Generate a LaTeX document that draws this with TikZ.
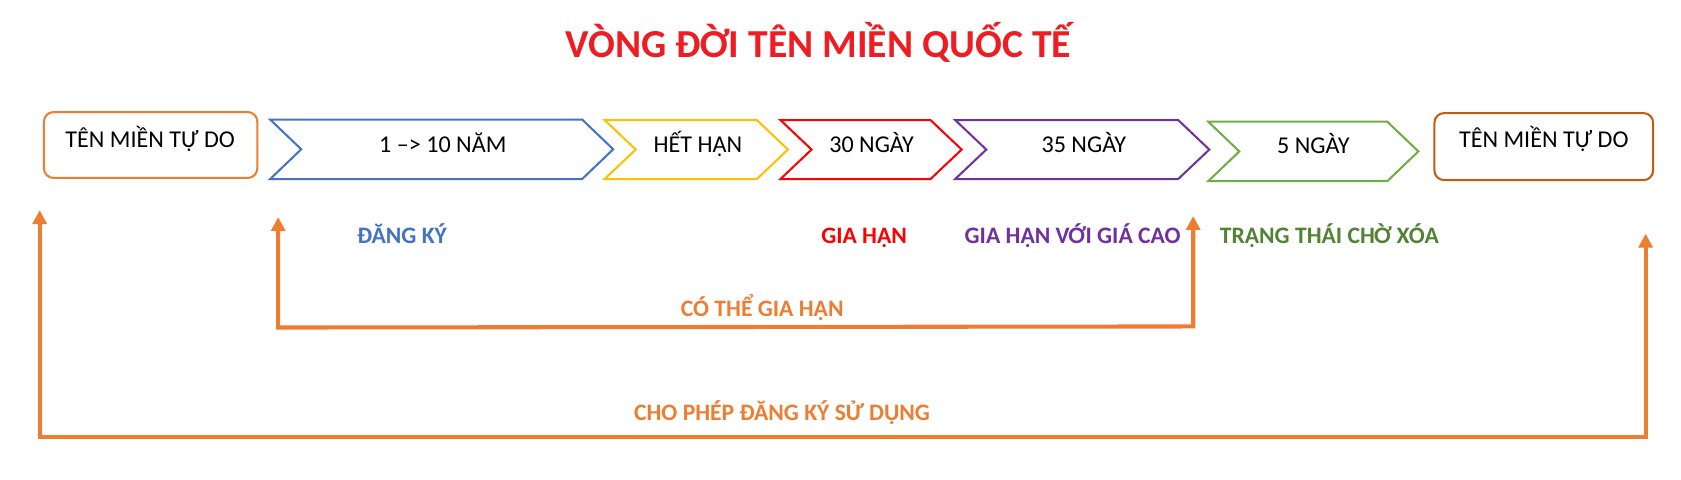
\documentclass[tikz,border=0pt]{standalone}
\usepackage{fontspec}
\setmainfont{Carlito}
\usetikzlibrary{arrows.meta}
\definecolor{ttlred}{HTML}{EE1D23}
\definecolor{cblue}{HTML}{4472C4}
\definecolor{cyellow}{HTML}{FFC000}
\definecolor{cred}{HTML}{FF0000}
\definecolor{cpurple}{HTML}{7030A0}
\definecolor{cgreen}{HTML}{70AD47}
\definecolor{cdgreen}{HTML}{548235}
\definecolor{corange}{HTML}{ED7D31}
\definecolor{cdorange}{HTML}{C55A11}
\newcommand{\chevronshape}[6]{%
  \draw[chevline,draw=#6] (#1,#3) -- ({#2-#5},#3) -- (#2,{(#3+#4)/2}) -- ({#2-#5},#4) -- (#1,#4) -- ({#1+#5},{(#3+#4)/2}) -- cycle;}
\begin{document}
\begin{tikzpicture}[x=1pt,y=-1pt,
  chevline/.style={line width=1.9pt, line join=miter},
  boxline/.style={draw, line width=1.9pt, rounded corners=9pt, inner sep=0pt},
  plain/.style={font=\fontsize{22.5}{27}\selectfont, anchor=base, inner sep=0pt, text=black},
  lbl/.style={font=\fontsize{22}{26}\selectfont\bfseries, anchor=base, inner sep=0pt},
  ttl/.style={font=\fontsize{37}{44}\selectfont\bfseries, anchor=base, inner sep=0pt, text=ttlred},
  flow/.style={draw=corange, line width=3.8pt, line join=miter,
    arrows={-Triangle[length=13pt,width=13pt]}},
  flowboth/.style={draw=corange, line width=3.8pt, line join=miter,
    arrows={Triangle[length=13pt,width=13pt]-Triangle[length=13pt,width=13pt]}}]
\useasboundingbox[fill=white] (0,0) rectangle (1568,447);

% title
\node[ttl] (title) at (763.5,54) {VÒNG ĐỜI TÊN MIỀN QUỐC TẾ};

% boxes
\node[boxline, draw=corange, minimum width=199pt, minimum height=61.5pt] (free1) at (140.5,135.25) {};
\node[plain] (free1t) at (140,138) {TÊN MIỀN TỰ DO};
\node[boxline, draw=cdorange, minimum width=204pt, minimum height=62.5pt] (free2) at (1440,136.75) {};
\node[plain] (free2t) at (1440,138) {TÊN MIỀN TỰ DO};

% chevrons
\chevronshape{252}{572}{111.5}{167}{29}{cblue}
\chevronshape{564}{735}{112}{167}{29}{cyellow}
\chevronshape{728}{897}{112}{167}{29}{cred}
\chevronshape{891}{1128}{112}{167}{29}{cpurple}
\chevronshape{1127}{1323}{113.5}{169}{29}{cgreen}
\node[plain] (c1) at (413,142) {1 –> 10 NĂM};
\node[plain] (c2) at (651,142) {HẾT HẠN};
\node[plain] (c3) at (813,142) {30 NGÀY};
\node[plain] (c4) at (1011,142) {35 NGÀY};
\node[plain] (c5) at (1225,143.5) {5 NGÀY};

% stage labels
\node[lbl, text=cblue] (l1) at (375,227) {ĐĂNG KÝ};
\node[lbl, text=cred] (l2) at (806,227) {GIA HẠN};
\node[lbl, text=cpurple] (l3) at (1000.5,227) {GIA HẠN VỚI GIÁ CAO};
\node[lbl, text=cdgreen] (l4) at (1240,227) {TRẠNG THÁI CHỜ XÓA};
\node[lbl, text=corange] (l5) at (711,295) {CÓ THỂ GIA HẠN};
\node[lbl, text=corange] (l6) at (729.5,392) {CHO PHÉP ĐĂNG KÝ SỬ DỤNG};

% connectors
\coordinate (in1) at (259.5,202.5);
\coordinate (in2) at (259.5,305.5);
\coordinate (in3) at (1113,304.5);
\coordinate (in4) at (1113,201.5);
\draw[flowboth] (in1) -- (in2) -- (in3) -- (in4);
\coordinate (out1) at (37,196);
\coordinate (out2) at (37,408);
\coordinate (out3) at (1535,408);
\coordinate (out4) at (1535,218);
\draw[flowboth] (out1) -- (out2) -- (out3) -- (out4);
\end{tikzpicture}
\end{document}
